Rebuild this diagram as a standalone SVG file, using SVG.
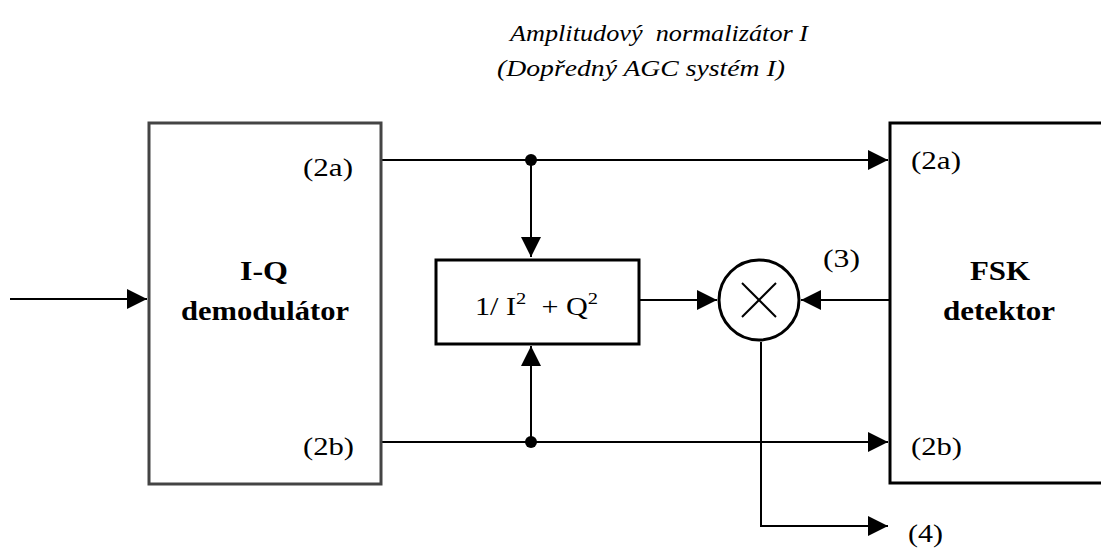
<svg xmlns="http://www.w3.org/2000/svg" width="1101" height="548" viewBox="0 0 1101 548">
<style>
.ln{stroke:#000;stroke-width:2;fill:none}
.t{font-family:'Liberation Serif','DejaVu Serif','Noto Serif',serif;fill:#000}
.r{font-size:25px}
.b{font-size:27px;font-weight:bold}
.i{font-size:24px;font-style:italic}
</style>
<defs>
<marker id="ah" viewBox="0 0 20 20" refX="20" refY="10" markerWidth="20" markerHeight="20" markerUnits="userSpaceOnUse" orient="auto">
<path d="M0,0 L20,10 L0,20 Z" fill="#000"/>
</marker>
</defs>
<rect width="1101" height="548" fill="#fff"/>
<g id="title">
<text class="t i" x="510" y="41" xml:space="preserve" textLength="298" lengthAdjust="spacingAndGlyphs">Amplitudový  normalizátor I</text>
<text class="t i" x="497" y="76" textLength="288" lengthAdjust="spacingAndGlyphs">(Dopředný AGC systém I)</text>
</g>
<g id="connectors">
<line class="ln" x1="10" y1="299" x2="147" y2="299" marker-end="url(#ah)"/>
<line class="ln" x1="382" y1="160" x2="888" y2="160" marker-end="url(#ah)"/>
<line class="ln" x1="382" y1="442" x2="888" y2="442" marker-end="url(#ah)"/>
<line class="ln" x1="531" y1="160" x2="531" y2="257" marker-end="url(#ah)"/>
<line class="ln" x1="531" y1="442" x2="531" y2="346" marker-end="url(#ah)"/>
<line class="ln" x1="640" y1="300" x2="717" y2="300" marker-end="url(#ah)"/>
<line class="ln" x1="889" y1="300" x2="801" y2="300" marker-end="url(#ah)"/>
<polyline class="ln" points="761,342 761,526 888,526" marker-end="url(#ah)"/>
<circle cx="531" cy="160" r="6" fill="#000"/>
<circle cx="531" cy="442" r="6" fill="#000"/>
</g>
<g id="iq">
<rect x="149" y="123" width="232" height="361" fill="none" stroke="#444" stroke-width="3"/>
<text class="t b" x="264" y="280" text-anchor="middle" textLength="48" lengthAdjust="spacingAndGlyphs">I-Q</text>
<text class="t b" x="265" y="320" text-anchor="middle" textLength="168" lengthAdjust="spacingAndGlyphs">demodulátor</text>
<text class="t r" x="303" y="176" textLength="50" lengthAdjust="spacingAndGlyphs">(2a)</text>
<text class="t r" x="303" y="455" textLength="51" lengthAdjust="spacingAndGlyphs">(2b)</text>
</g>
<g id="norm">
<rect x="436" y="260" width="203" height="84" fill="none" stroke="#000" stroke-width="3"/>
<text class="t r" x="475" y="315" xml:space="preserve" textLength="123" lengthAdjust="spacingAndGlyphs">1/ I<tspan dy="-11" font-size="17">2</tspan><tspan dy="11">  + Q</tspan><tspan dy="-11" font-size="17">2</tspan></text>
</g>
<g id="mult">
<circle cx="759" cy="300" r="40" fill="#fff" stroke="#000" stroke-width="3"/>
<line class="ln" x1="742" y1="283" x2="776" y2="317"/>
<line class="ln" x1="776" y1="283" x2="742" y2="317"/>
</g>
<g id="fsk">
<rect x="890" y="123" width="220" height="360" fill="none" stroke="#000" stroke-width="3"/>
<text class="t b" x="1000" y="280" text-anchor="middle" textLength="60" lengthAdjust="spacingAndGlyphs">FSK</text>
<text class="t b" x="999" y="320" text-anchor="middle" textLength="112" lengthAdjust="spacingAndGlyphs">detektor</text>
<text class="t r" x="911" y="169" textLength="50" lengthAdjust="spacingAndGlyphs">(2a)</text>
<text class="t r" x="911" y="455" textLength="51" lengthAdjust="spacingAndGlyphs">(2b)</text>
</g>
<g id="labels">
<text class="t r" x="823" y="267" textLength="37" lengthAdjust="spacingAndGlyphs">(3)</text>
<text class="t r" x="908" y="542" textLength="35" lengthAdjust="spacingAndGlyphs">(4)</text>
</g>
</svg>
